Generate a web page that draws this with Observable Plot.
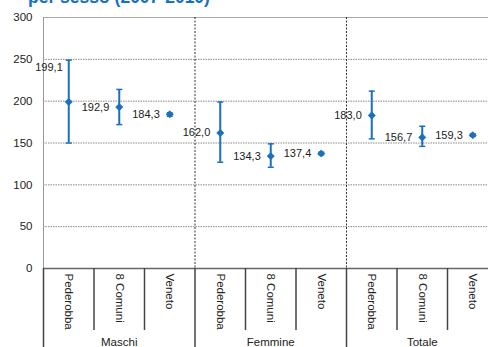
<!DOCTYPE html>
<html><head><meta charset="utf-8">
<script src="https://cdn.jsdelivr.net/npm/d3@7"></script>
<script src="https://cdn.jsdelivr.net/npm/@observablehq/plot@0.6"></script>
<style>
html,body{margin:0;padding:0;background:#fff;overflow:hidden}
#wrap{position:relative;width:488px;height:347px;overflow:hidden}
#title{position:absolute;left:28px;top:-11px;font:bold 17.5px "Liberation Sans",sans-serif;color:#1a6fc0;line-height:17.5px;white-space:nowrap}
svg{display:block}
</style></head><body><div id="wrap"><div id="chart"></div><div id="title">per sesso (2007-2010)</div></div>
<script>
const groups = ["Maschi", "Femmine", "Totale"];
const areas = ["Pederobba", "8 Comuni", "Veneto"];
const values = [199.1, 192.9, 184.3, 162.0, 134.3, 137.4, 183.0, 156.7, 159.3];
const lower = [150, 172, 182, 127, 121, 136, 155, 146, 158];
const upper = [249, 214, 186, 199, 149, 139, 212, 170, 161];
const yTicks = [0, 50, 100, 150, 200, 250, 300];

const blue = "#1a6fc0";
const font = "Liberation Sans, Arial, sans-serif";
const data = values.map((v, i) => ({
  i, group: groups[Math.floor(i / 3)], area: areas[i % 3], value: v, lo: lower[i], hi: upper[i]
}));
const n = data.length;
const bounds = d3.range(n + 1).map(k => k - 0.5);
const groupBounds = bounds.filter((b, k) => k % 3 === 0);
const catBounds = bounds.filter((b, k) => k % 3 !== 0);
const groupCenters = groups.map((g, k) => k * 3 + 1);
const fmt = v => d3.format(".1f")(v).replace(".", ",");
const cap = {draw(ctx) { ctx.moveTo(-3, 0); ctx.lineTo(3, 0); }};

const chart = Plot.plot({
  width: 488,
  height: 347,
  marginLeft: 43,
  marginRight: -9.5,
  marginTop: 17,
  marginBottom: 79,
  style: {fontFamily: font, background: "#fff"},
  x: {type: "linear", domain: [-0.5, n - 0.5], label: null},
  y: {domain: [0, 300], label: null},
  marks: [
    Plot.gridY(yTicks.filter(t => t > 0 && t < 300), {stroke: "#888", strokeOpacity: 1, strokeDasharray: "1.5,1"}),
    Plot.ruleY([300], {stroke: "#a8a8a8", strokeWidth: 1.2}),
    Plot.ruleX([-0.5], {stroke: "#999"}),
    Plot.ruleX(groupBounds.slice(1, -1), {stroke: "#333", strokeDasharray: "2,1.5"}),
    Plot.ruleY([0], {stroke: "#666", strokeWidth: 1.5}),
    Plot.axisY({ticks: yTicks, label: null, tickSize: 0, tickPadding: 11, fontSize: 11.5, fill: "#222"}),
    Plot.axisX({ticks: d3.range(n), label: null, tickFormat: i => areas[i % 3], tickRotate: 90, tickSize: 0, tickPadding: 5, fontSize: 11.5, fill: "#222"}),
    Plot.axisX({ticks: catBounds, label: null, tickFormat: () => "", tickSize: 62, stroke: "#444", strokeWidth: 1.5}),
    Plot.axisX({ticks: groupBounds, label: null, tickFormat: () => "", tickSize: 79, stroke: "#444", strokeWidth: 1.5}),
    Plot.axisX({ticks: groupCenters, label: null, tickFormat: k => groups[(k - 1) / 3], tickSize: 0, tickPadding: 69, fontSize: 11.5, fill: "#222"}),
    Plot.ruleX(data, {x: "i", y1: "lo", y2: "hi", stroke: blue, strokeWidth: 2}),
    Plot.dot(data, {x: "i", y: "hi", symbol: cap, fill: "none", stroke: blue, strokeWidth: 1.5}),
    Plot.dot(data, {x: "i", y: "lo", symbol: cap, fill: "none", stroke: blue, strokeWidth: 1.5}),
    Plot.dot(data, {x: "i", y: "value", symbol: "diamond2", r: 3.2, fill: blue, stroke: blue, strokeWidth: 0.8}),
    Plot.text(data, {filter: d => d.i !== 0, x: "i", y: "value", text: d => fmt(d.value), textAnchor: "end", dx: -10, fontSize: 11, fill: "#222"}),
    Plot.text(data, {filter: d => d.i === 0, x: "i", y: "value", text: d => fmt(d.value), textAnchor: "end", dx: -6, dy: -34, fontSize: 11, fill: "#222"})
  ]
});
document.getElementById("chart").appendChild(chart);
</script></body></html>
